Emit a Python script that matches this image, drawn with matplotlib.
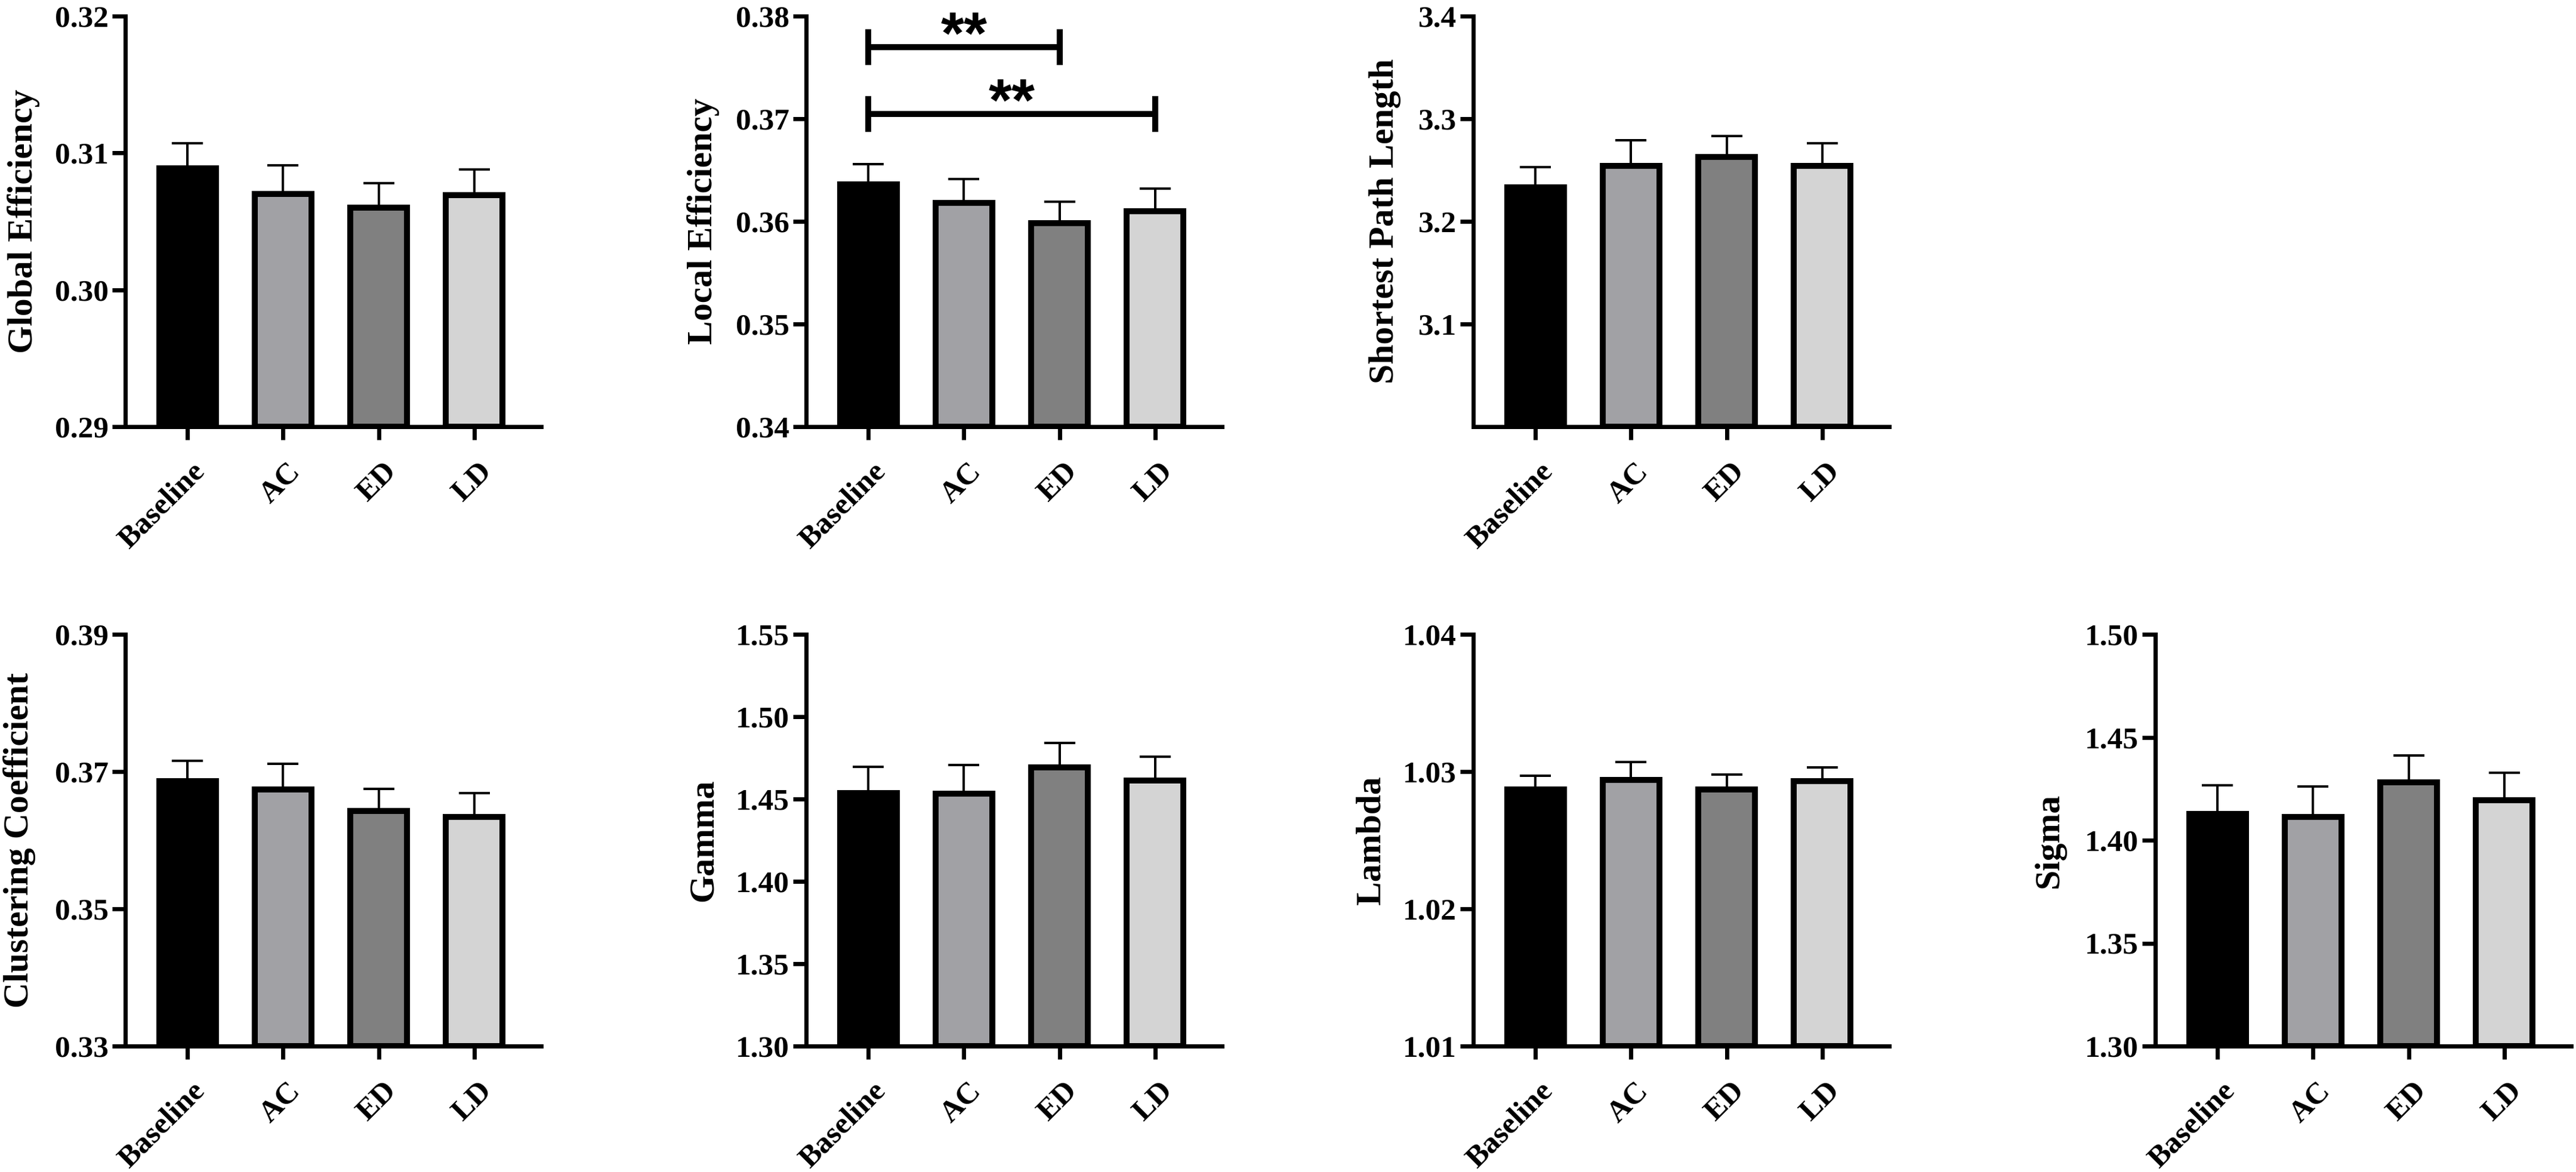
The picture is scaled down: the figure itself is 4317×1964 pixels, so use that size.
import numpy as np
import matplotlib
matplotlib.use("Agg")
import matplotlib.pyplot as plt
from matplotlib.ticker import FormatStrFormatter
from matplotlib.transforms import ScaledTranslation

# groups and fill colours
groups = ["Baseline", "AC", "ED", "LD"]
bar_colors = ["#000000", "#a1a1a5", "#808080", "#d4d4d4"]

# mean values and upper error (SEM)
global_eff = [0.3089, 0.3070, 0.3060, 0.3069]
global_err = [0.0018, 0.0021, 0.0018, 0.0019]

local_eff = [0.3636, 0.3618, 0.3598, 0.3610]
local_err = [0.0020, 0.0023, 0.0021, 0.0022]

path_len = [3.233, 3.254, 3.263, 3.254]
path_err = [0.020, 0.025, 0.020, 0.022]

clustering = [0.3686, 0.3674, 0.3643, 0.3634]
clustering_err = [0.0030, 0.0037, 0.0032, 0.0035]

gamma = [1.4538, 1.4533, 1.4691, 1.4611]
gamma_err = [0.0156, 0.0172, 0.0148, 0.0147]

lam = [1.0287, 1.0294, 1.0287, 1.0293]
lam_err = [0.0010, 0.0013, 0.0011, 0.0010]

sigma = [1.4128, 1.4113, 1.4281, 1.4194]
sigma_err = [0.0139, 0.0148, 0.0130, 0.0133]

# significance brackets on the local efficiency panel: (from, to, height, label)
local_sig = [(0, 2, 0.37698, "**"), (0, 3, 0.37047, "**")]

FIG_W, FIG_H = 4317, 1964
AX_W = 697

SERIF = "Liberation Serif"

# (label, means, errs, ticks, fmt, left px, top px, bottom px, ylabel offset px)
panels = [
    ("Global Efficiency", global_eff, global_err, [0.29, 0.30, 0.31, 0.32], (0.29, 0.32), "%.2f", 210, 27, 715, -143),
    ("Local Efficiency", local_eff, local_err, [0.34, 0.35, 0.36, 0.37, 0.38], (0.34, 0.38), "%.2f", 1351, 27, 715, -145),
    ("Shortest Path Length", path_len, path_err, [3.1, 3.2, 3.3, 3.4], (3.0, 3.4), "%.1f", 2469, 27, 715, -121),
    ("Clustering Coefficient", clustering, clustering_err, [0.33, 0.35, 0.37, 0.39], (0.33, 0.39), "%.2f", 210, 1063, 1753, -150),
    ("Gamma", gamma, gamma_err, [1.30, 1.35, 1.40, 1.45, 1.50, 1.55], (1.30, 1.55), "%.2f", 1351, 1063, 1753, -144),
    ("Lambda", lam, lam_err, [1.01, 1.02, 1.03, 1.04], (1.01, 1.04), "%.2f", 2469, 1063, 1753, -144),
    ("Sigma", sigma, sigma_err, [1.30, 1.35, 1.40, 1.45, 1.50], (1.30, 1.50), "%.2f", 3612, 1063, 1753, -150),
]

fig = plt.figure(figsize=(FIG_W / 100, FIG_H / 100), dpi=100)

px = 0.72  # points per pixel at dpi 100
x = np.arange(len(groups))

axes = []
for label, means, errs, ticks, ylim, fmt, left, top, bottom, lab_off in panels:
    ax = fig.add_axes([left / FIG_W, 1 - bottom / FIG_H, AX_W / FIG_W, (bottom - top) / FIG_H])
    axes.append(ax)

    ax.errorbar(x, means, yerr=[np.zeros(len(errs)), errs], fmt="none", ecolor="black",
                elinewidth=4 * px, capsize=26.5 * px, capthick=4 * px, zorder=1)
    ax.bar(x, np.array(means) - ylim[0], bottom=ylim[0], width=0.594, color=bar_colors,
           edgecolor="black", linewidth=10 * px, zorder=2)

    ax.set_xlim(-0.65, 3.70)
    ax.set_ylim(*ylim)
    ax.set_yticks(ticks)
    ax.yaxis.set_major_formatter(FormatStrFormatter(fmt))
    ax.set_xticks(x)
    ax.set_xticklabels(groups)

    for side in ["top", "right"]:
        ax.spines[side].set_visible(False)
    for side in ["left", "bottom"]:
        ax.spines[side].set_linewidth(7 * px)

    ax.tick_params(axis="both", direction="out", length=22 * px, width=7 * px, color="black")
    ax.tick_params(axis="y", pad=6 * px)
    ax.tick_params(axis="x", pad=30 * px)

    for t in ax.get_yticklabels():
        t.set_fontfamily(SERIF)
        t.set_fontweight("bold")
        t.set_fontsize(37)
    shift = ScaledTranslation(6 / 100, 0, fig.dpi_scale_trans)
    for t in ax.get_xticklabels():
        t.set_fontfamily(SERIF)
        t.set_fontweight("bold")
        t.set_fontsize(37)
        t.set_rotation(45)
        t.set_ha("right")
        t.set_va("top")
        t.set_rotation_mode("anchor")
        t.set_transform(t.get_transform() + shift)

    ax.set_ylabel(label, fontfamily=SERIF, fontweight="bold", fontsize=43)
    ax.yaxis.set_label_coords(lab_off / AX_W, 0.5)

# brackets with stars on local efficiency
ax = axes[1]
half = 0.00174
for x0, x1, yb, txt in local_sig:
    ax.plot([x0, x1], [yb, yb], color="black", lw=10 * px, solid_capstyle="butt", clip_on=False)
    for xe in (x0, x1):
        ax.plot([xe, xe], [yb - half, yb + half], color="black", lw=10 * px,
                solid_capstyle="butt", clip_on=False)
    star_off = ScaledTranslation(0, -0.575 * 72 / 72, fig.dpi_scale_trans)
    ax.text((x0 + x1) / 2, yb + 0.0027, txt, ha="center", va="baseline",
            fontfamily="Liberation Sans", fontweight="bold", fontsize=72,
            transform=ax.transData + star_off, clip_on=False)

fig.savefig("out.png", dpi=100)
